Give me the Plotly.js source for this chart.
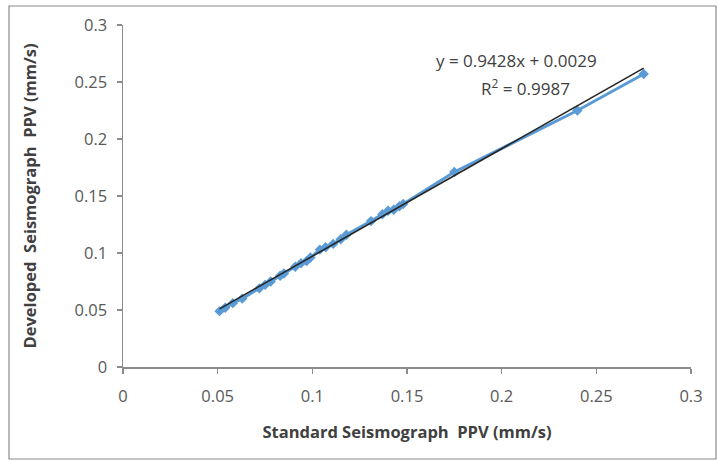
<!DOCTYPE html>
<html>
<head>
<meta charset="utf-8">
<script src="https://cdn.plot.ly/plotly-3.0.1.min.js"></script>
<style>html,body{margin:0;padding:0;background:#fff;}#chart{width:718px;height:461px;}</style>
</head>
<body>
<div id="chart"></div>
<script>
// Standard seismograph PPV (mm/s)
const standardPPV = [0.051, 0.054, 0.058, 0.063, 0.072, 0.075, 0.078, 0.083, 0.085, 0.091, 0.094, 0.097, 0.099, 0.104, 0.107, 0.111, 0.115, 0.118, 0.131, 0.137, 0.140, 0.143, 0.146, 0.148, 0.175, 0.240, 0.275];
// Developed seismograph PPV (mm/s)
const developedPPV = [0.049, 0.052, 0.056, 0.060, 0.069, 0.072, 0.075, 0.080, 0.082, 0.088, 0.091, 0.093, 0.096, 0.103, 0.105, 0.108, 0.112, 0.116, 0.128, 0.134, 0.137, 0.138, 0.141, 0.143, 0.171, 0.225, 0.257];
// Linear trendline as printed on the chart
const trendSlope = 0.9428;
const trendIntercept = 0.0029;
const trendLabel = "y = 0.9428x + 0.0029";
const r2Label = "R<sup>2</sup> = 0.9987";
const tickVals = [0, 0.05, 0.1, 0.15, 0.2, 0.25, 0.3];
const tickText = ["0", "0.05", "0.1", "0.15", "0.2", "0.25", "0.3"];

const xMin = Math.min(...standardPPV), xMax = Math.max(...standardPPV);
const trendX = [xMin, xMax];
const trendY = trendX.map(v => trendSlope * v + trendIntercept);

const font = "Open Sans, Liberation Sans, sans-serif";
const axisCommon = {
  range: [0, 0.3], tickvals: tickVals, ticktext: tickText,
  showgrid: false, zeroline: false, showline: true, linecolor: '#8c8c8c', linewidth: 1.5,
  ticks: 'outside', ticklen: 5, tickcolor: '#8c8c8c', tickwidth: 1.5,
  tickfont: {family: font, size: 16.5, color: '#595959'}, fixedrange: true
};

const data = [
  {x: standardPPV, y: developedPPV, type: 'scatter', mode: 'lines+markers',
   line: {color: '#5B9BD5', width: 3},
   marker: {symbol: 'diamond', size: 8, color: '#5B9BD5'}, showlegend: false, hoverinfo: 'skip'},
  {x: trendX, y: trendY, type: 'scatter', mode: 'lines',
   line: {color: '#262626', width: 1.6}, showlegend: false, hoverinfo: 'skip'}
];

const layout = {
  width: 718, height: 461,
  margin: {l: 123, r: 27, t: 25, b: 94},
  paper_bgcolor: '#fff', plot_bgcolor: '#fff',
  xaxis: Object.assign({}, axisCommon, {
    ticklabelstandoff: 9,
    title: {text: '<b>Standard Seismograph  PPV (mm/s)</b>', font: {family: font, size: 16.5, color: '#404040'}, standoff: 20}
  }),
  yaxis: Object.assign({}, axisCommon, {
    ticklabelstandoff: 6,
    title: {text: '<b>Developed  Seismograph  PPV (mm/s)</b>', font: {family: font, size: 16.5, color: '#404040'}, standoff: 34}
  }),
  annotations: [
    {x: 0.208, y: 0.269, xref: 'x', yref: 'y', text: trendLabel, showarrow: false,
     font: {family: font, size: 17, color: '#404040'}},
    {x: 0.2125, y: 0.245, xref: 'x', yref: 'y', text: r2Label, showarrow: false,
     font: {family: font, size: 17, color: '#404040'}}
  ],
  shapes: [
    {type: 'rect', xref: 'paper', yref: 'paper', x0: -0.2007, x1: 1.044, y0: -0.269, y1: 1.0556,
     line: {color: '#8a8a8a', width: 1.2}}
  ]
};

Plotly.newPlot('chart', data, layout, {displayModeBar: false, staticPlot: true});
</script>
</body>
</html>
